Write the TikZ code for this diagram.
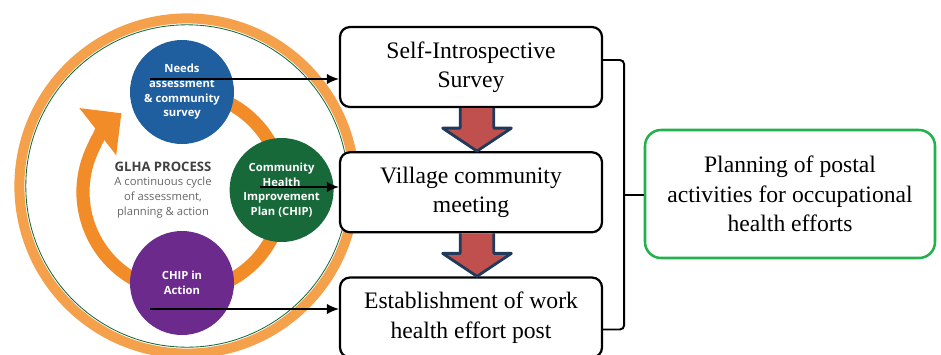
\documentclass[tikz,border=0pt]{standalone}
\usepackage{fontspec}
\setmainfont{Liberation Serif}
\newfontfamily\glhafont{Open Sans}
\usepackage{tikz}
\usetikzlibrary{positioning,arrows.meta,calc}

\definecolor{ringorange}{HTML}{F5A04A}
\definecolor{cycleorange}{HTML}{F28C28}
\definecolor{needsblue}{HTML}{1F5FA0}
\definecolor{chipgreen}{HTML}{17693A}
\definecolor{actionpurple}{HTML}{6C2A8D}
\definecolor{flowred}{HTML}{C0504D}
\definecolor{flownavy}{HTML}{1F3A5A}
\definecolor{plangreen}{HTML}{22B14C}

\begin{document}
\begin{tikzpicture}[
  every node/.style={font=\fontsize{16.8}{21}\selectfont},
  stepbox/.style={draw,line width=1.6pt,fill=white,rounded corners=2.5mm,align=center,minimum width=65.5mm,minimum height=20mm,inner sep=2pt},
  stage/.style={circle,fill=#1,minimum size=26mm,inner sep=0pt,align=center,text=white,font=\glhafont\bfseries\fontsize{8}{10.4}\selectfont},
  conn/.style={-{Latex[length=3mm,width=2.6mm]},line width=1.1pt},
  flow/.style={draw=flownavy,fill=flowred,line width=2pt,line join=round},
  bracket/.style={line width=1.4pt,rounded corners=3pt}
]
  \useasboundingbox (0,0) rectangle (23.525,8.85);
  % frame round the cycle
  \draw[ringorange,line width=2.5mm] (4.675,4.2) circle (4.19);
  \draw[chipgreen,line width=0.6pt] (4.675,4.2) circle (4.03);
  % the cycle arrow
  \coordinate (ctr) at (4.575,4.05);
  \draw[cycleorange,line width=3.3mm,-{Triangle[length=7.5mm,width=14.5mm]}]
    ([shift={(70:2.5)}]ctr) arc[start angle=70,end angle=-232,radius=2.5];
  \node[stage=needsblue]    (needs)  at (4.55,6.55)  {Needs\\assessment\\\& community\\survey};
  \node[stage=chipgreen]    (chip)   at (7.04,4.1)   {Community\\Health\\Improvement\\Plan (CHIP)};
  \node[stage=actionpurple] (action) at (4.55,1.775) {CHIP in\\Action};
  \node[align=center,text=black!60,font=\glhafont\fontsize{8}{10.6}\selectfont] (glha) at (4.075,4.1)
    {{\bfseries\fontsize{9.3}{10.6}\selectfont\color{black!75}GLHA PROCESS}\\A continuous cycle\\of assessment,\\planning \& action};

  % steps
  \node[stepbox] (s1) at (11.775,7.175) {Self-Introspective\\Survey};
  \node[stepbox,below=10.75mm of s1] (s2) {Village community\\meeting};
  \node[stepbox,below=10.75mm of s2] (s3) {Establishment of work\\health effort post};
  \node[draw=plangreen,line width=1.8pt,rounded corners=4mm,align=center,minimum width=72.5mm,minimum height=32mm] (plan) at (19.75,4.0)
    {Planning of postal\\activities for occupational\\health efforts};

  % circles to steps
  \coordinate (n1) at ($(needs.center)+(-0.8,0.325)$);
  \coordinate (n2) at ($(chip.center)+(-0.55,0.075)$);
  \coordinate (n3) at ($(action.center)+(-0.8,-0.65)$);
  \foreach \c/\s in {n1/s1,n2/s2,n3/s3} \draw[conn] (\c) -- (\c -| \s.west);

  % block arrows between steps
  \foreach \a/\b in {s1/s2,s2/s3}
    \draw[flow] ([xshift=-2.7mm]\a.south) -- ++(0,-5mm) -- ++(-4.4mm,0) -- ([xshift=1.5mm]\b.north)
      -- ++(8.6mm,5.75mm) -- ++(-4.4mm,0) -- ++(0,5mm);

  % bracket into the plan
  \coordinate (br) at ($(s2.east)+(5.25mm,-0.75mm)$);
  \draw[bracket] ([yshift=1.75mm]s1.east) -| (br) |- ([yshift=-3mm]s3.east);
  \draw[bracket] (br) -- (br -| plan.west);
\end{tikzpicture}
\end{document}
